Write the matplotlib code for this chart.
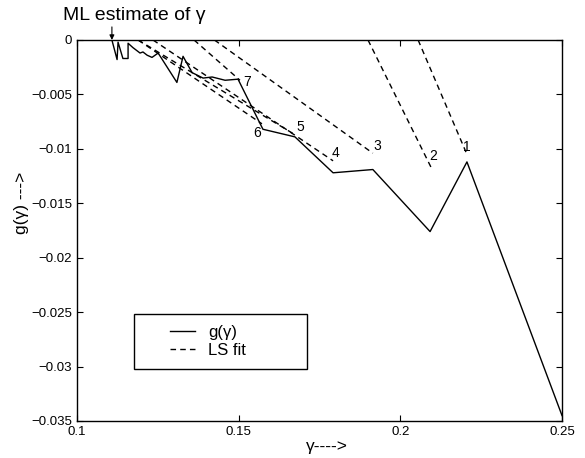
import matplotlib
matplotlib.use("Agg")
import matplotlib.pyplot as plt
from matplotlib.patches import Rectangle

plt.rcParams['font.family'] = ['Liberation Sans', 'DejaVu Sans']

# g(gamma) curve
gamma = [0.1108, 0.1124, 0.1127, 0.1142, 0.1158, 0.1158, 0.1173, 0.1195, 0.1204,
         0.1217, 0.1232, 0.1251, 0.1309, 0.1328, 0.1356, 0.1390, 0.1418, 0.1458,
         0.1498, 0.1575, 0.1674, 0.1792, 0.1915, 0.2092, 0.2206, 0.2500]
g = [0.0, -0.0018, -0.0002, -0.0017, -0.0017, -0.0003, -0.0007, -0.0012, -0.0011,
     -0.0014, -0.0016, -0.0012, -0.0039, -0.0015, -0.0030, -0.0035, -0.0034, -0.0037,
     -0.0036, -0.0082, -0.0089, -0.0122, -0.0119, -0.0176, -0.0112, -0.0345]

# LS fit lines: start and end points (gamma, g)
fit_labels = ['1', '2', '3', '4', '5', '6', '7']
fit_x0 = [0.2055, 0.1900, 0.1425, 0.1235, 0.1189, 0.1189, 0.1362]
fit_y0 = [0.0, 0.0, 0.0, 0.0, 0.0, 0.0, 0.0]
fit_x1 = [0.2203, 0.2095, 0.1915, 0.1792, 0.1674, 0.1572, 0.1504]
fit_y1 = [-0.0103, -0.0117, -0.0104, -0.0111, -0.0087, -0.0077, -0.0037]
# label positions
lab_x = [0.2206, 0.2101, 0.1928, 0.1801, 0.1690, 0.1557, 0.1526]
lab_y = [-0.0098, -0.0107, -0.0097, -0.0104, -0.0080, -0.0085, -0.0039]

ml_gamma = 0.1108

fig = plt.figure(figsize=(5.85, 4.58), dpi=100)
ax = fig.add_axes([0.1316, 0.0808, 0.8291, 0.8319])

ax.plot(gamma, g, color='black', lw=1.0, label='g(γ)')
for i in range(len(fit_labels)):
    ax.plot([fit_x0[i], fit_x1[i]], [fit_y0[i], fit_y1[i]], color='black', lw=1.0,
            linestyle=(0, (4, 3)), label='LS fit' if i == 0 else None)
    ax.text(lab_x[i], lab_y[i], fit_labels[i], fontsize=10, ha='center', va='center')

ax.set_xlim(0.1, 0.25)
ax.set_ylim(-0.035, 0)
ax.set_xticks([0.1, 0.15, 0.2, 0.25])
ax.set_xticklabels(['0.1', '0.15', '0.2', '0.25'])
ax.set_yticks([0, -0.005, -0.01, -0.015, -0.02, -0.025, -0.03, -0.035])
ax.set_yticklabels(['0', '−0.005', '−0.01', '−0.015', '−0.02', '−0.025', '−0.03', '−0.035'])
ax.tick_params(direction='in', top=True, right=True, labelsize=9.5, length=4)
for s in ax.spines.values():
    s.set_linewidth(1.0)

ax.set_xlabel('γ---->', fontsize=12.5)
ax.xaxis.set_label_coords(0.515, -0.047)
ax.set_ylabel('g(γ) --->', fontsize=12.5)
ax.yaxis.set_label_coords(-0.099, 0.572)

ax.text(0.0957, 0.00184, 'ML estimate of γ', ha='left', va='baseline',
        fontsize=14, clip_on=False)
ax.annotate('', xy=(ml_gamma, 0.0), xytext=(ml_gamma, 0.0012),
            textcoords='data', annotation_clip=False,
            arrowprops=dict(arrowstyle='-|>', color='black', lw=0.8,
                            mutation_scale=7, shrinkA=0, shrinkB=0))

# legend frame and content
ax.add_patch(Rectangle((0.1175, 0.1365), 0.357, 0.144, transform=ax.transAxes,
                       fill=True, facecolor='white', edgecolor='black', lw=1.0,
                       zorder=4))
leg = ax.legend(loc='center left', bbox_to_anchor=(0.1915, 0.2085),
                fontsize=12, frameon=False, handlelength=1.5, borderpad=0.0,
                borderaxespad=0.0, handletextpad=0.8, labelspacing=0.15)
leg.set_zorder(5)

fig.savefig('out.png', dpi=100)
